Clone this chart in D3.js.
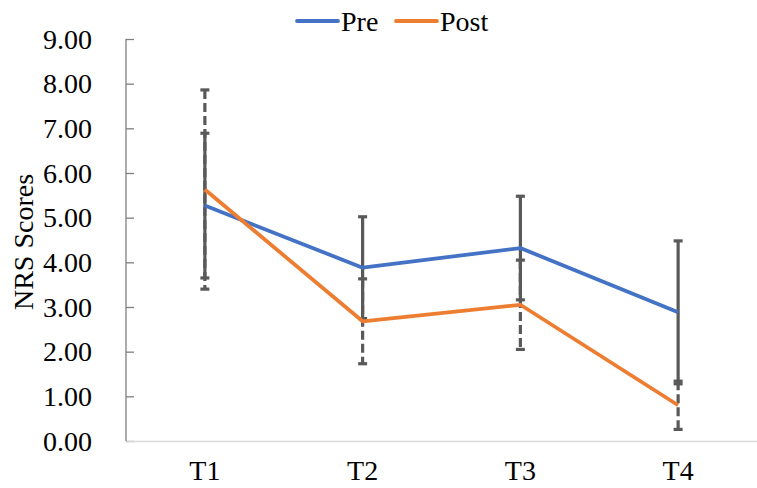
<!DOCTYPE html>
<html><head><meta charset="utf-8">
<script src="https://cdn.jsdelivr.net/npm/d3@7"></script>
<style>body{margin:0;background:#fff}svg{display:block}</style>
</head><body><svg id="c" width="757" height="488" font-family="'Liberation Serif', 'Times New Roman', serif"></svg>
<script>
const categories = ["T1","T2","T3","T4"];
const preMean = [5.27, 3.88, 4.32, 2.88];
const preSD   = [1.62, 1.14, 1.16, 1.60];
const postMean = [5.63, 2.68, 3.05, 0.80];
const postSD   = [2.23, 0.95, 1.00, 0.54];
const yTicks = [0,1,2,3,4,5,6,7,8,9];
const seriesNames = ["Pre","Post"];
const colors = ["#4472C4","#ED7D31"];

const svg = d3.select("#c");
const x = d3.scaleBand().domain(categories).range([126, 757]);
const y = d3.scaleLinear().domain([0, 9]).range([441, 39]);
const cx = c => x(c) + x.bandwidth()/2;
const FS = "28px";
const FF = "'Liberation Serif', 'Times New Roman', serif";

// y axis
const yAxis = svg.append("g").attr("transform","translate(126,0)")
  .call(d3.axisRight(y).tickValues(yTicks).tickSize(8).tickFormat(""));
yAxis.select(".domain").attr("stroke","#7f7f7f").attr("stroke-width",1.3).attr("d","M0,39V441");
yAxis.selectAll(".tick line").attr("stroke","#7f7f7f").attr("stroke-width",1.3);
svg.append("g").selectAll("text").data(yTicks).join("text")
  .attr("x", 92).attr("y", d => y(d)).attr("dy","0.35em")
  .attr("text-anchor","end").style("font-size",FS)
  .text(d => d3.format(".2f")(d));

// x axis
const xAxis = svg.append("g").attr("transform","translate(0,441)")
  .call(d3.axisBottom(x).tickSize(0).tickPadding(0));
xAxis.attr("font-family", FF);
xAxis.select(".domain").attr("stroke","#d9d9d9").attr("stroke-width",1.3);
xAxis.selectAll(".tick text").attr("y", 39).attr("dy",null).style("font-size",FS).attr("fill","#000");

// y label
svg.append("text").attr("transform","translate(33,242) rotate(-90)")
  .attr("text-anchor","middle").style("font-size",FS).text("NRS Scores");

// error bars
function errBars(means, sds, dash) {
  const g = svg.append("g").attr("stroke","#595959").attr("stroke-width",3.2);
  categories.forEach((c,i) => {
    const x0 = cx(c), y1 = y(means[i]+sds[i]), y2 = y(means[i]-sds[i]);
    g.append("line").attr("x1",x0).attr("x2",x0).attr("y1",y1).attr("y2",y2)
      .attr("stroke-dasharray", dash ? "9,4" : null);
    [y1,y2].forEach(yy => g.append("line").attr("x1",x0-4.5).attr("x2",x0+4.5).attr("y1",yy).attr("y2",yy));
  });
}
errBars(preMean, preSD, false);
errBars(postMean, postSD, true);

// lines
const line = d3.line().x((d,i) => cx(categories[i])).y(d => y(d));
[preMean, postMean].forEach((s,k) => {
  svg.append("path").datum(s).attr("d", line).attr("fill","none")
    .attr("stroke", colors[k]).attr("stroke-width",3.8).attr("stroke-linejoin","round");
});

// legend
const leg = svg.append("g");
const legX = [297, 396];
seriesNames.forEach((n,k) => {
  leg.append("line").attr("x1",legX[k]).attr("x2",legX[k]+41).attr("y1",21).attr("y2",21)
    .attr("stroke",colors[k]).attr("stroke-width",3.8).attr("stroke-linecap","round");
  leg.append("text").attr("x",legX[k]+44).attr("y",31).style("font-size",FS).text(n);
});
svg.selectAll("text").style("font-family", FF).attr("fill","#000");
</script></body></html>
